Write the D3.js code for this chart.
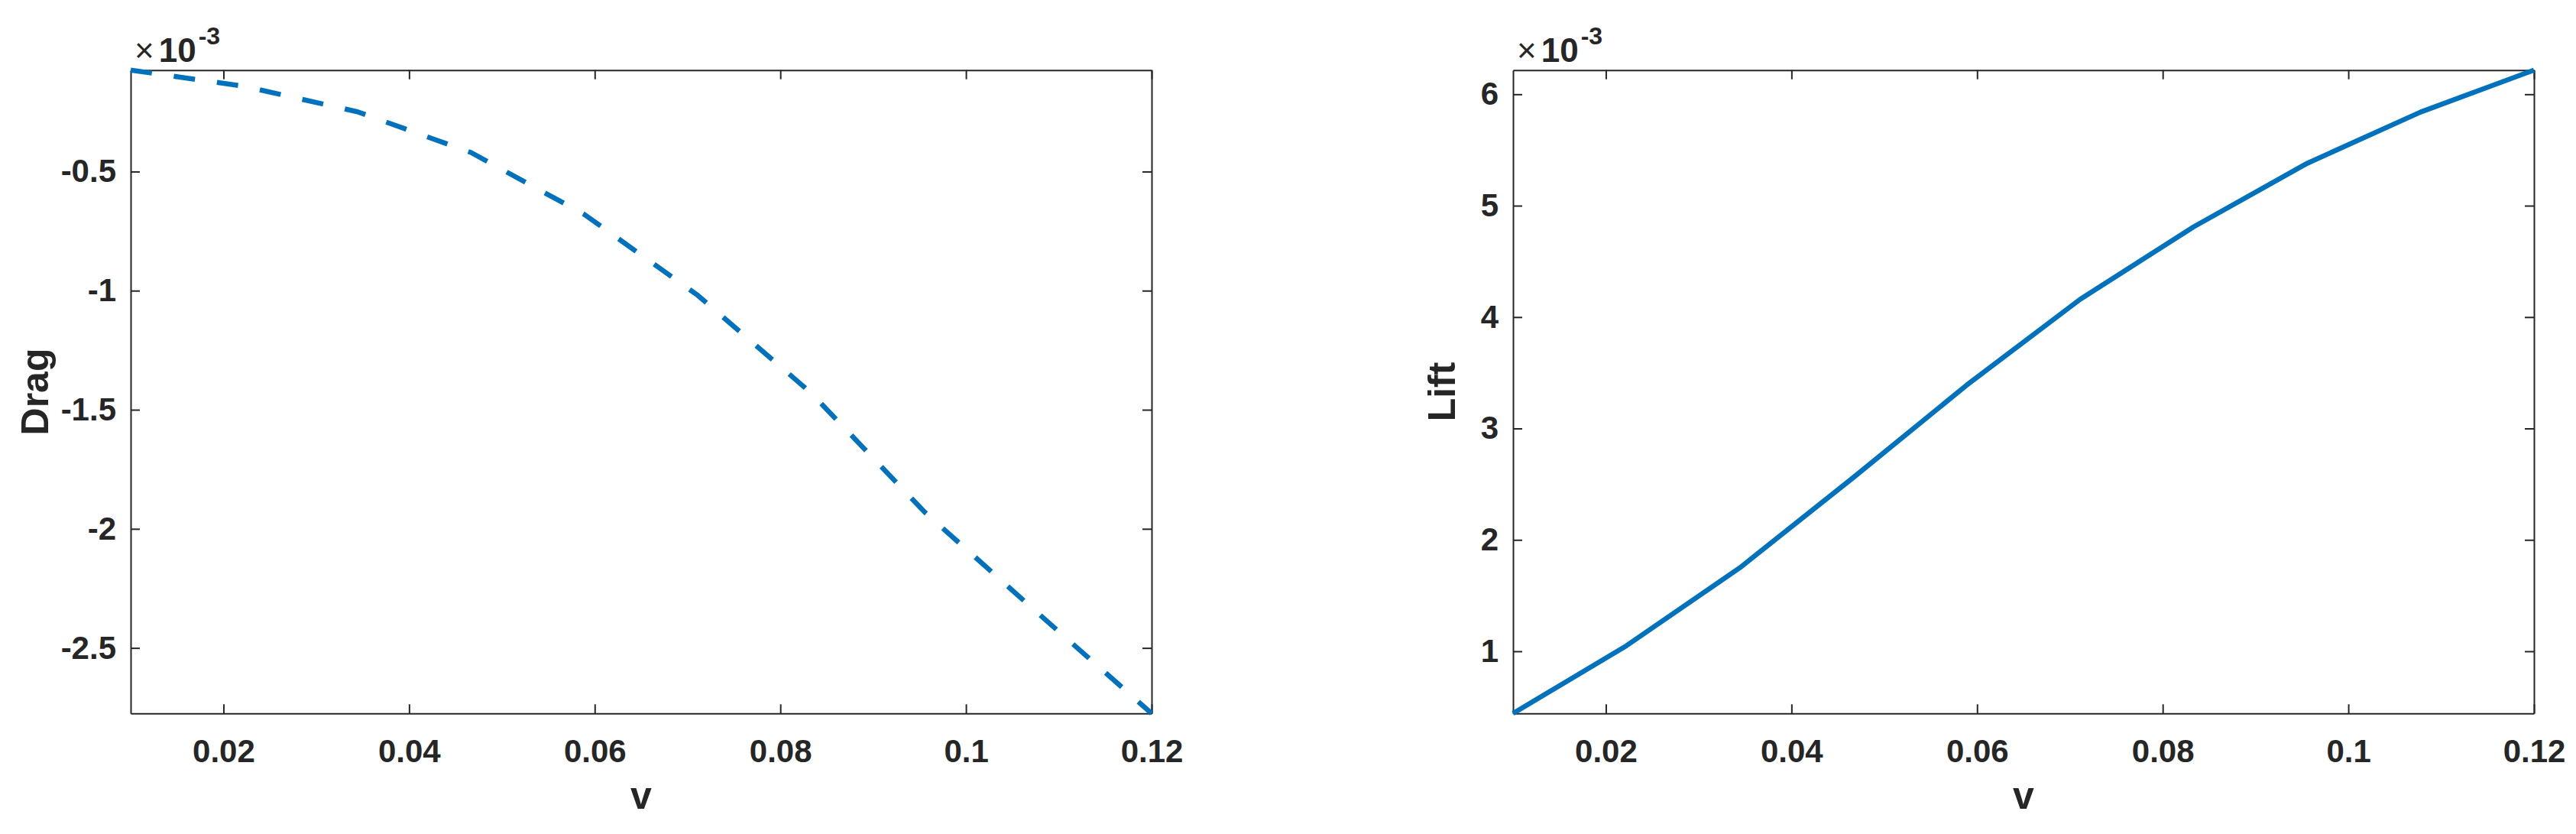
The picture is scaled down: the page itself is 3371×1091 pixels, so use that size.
<!DOCTYPE html>
<html>
<head>
<meta charset="utf-8">
<script src="https://cdn.jsdelivr.net/npm/d3@7"></script>
<style>
    body { margin: 0; background: #fff; }
    svg { display: block; }
</style>
</head>
<body>
<svg id="main"></svg>
<script>
const W = 3371;
const H = 1091;
const ink = '#262626';
const blue = '#0072BD';

// speed values (x axis, shared by both panels)
const v = [0.01, 0.02222, 0.03444, 0.04667, 0.05889, 0.07111, 0.08333, 0.09556, 0.10778, 0.12];
// drag and lift, in units of 10^-3
const drag = [-0.074, -0.142, -0.249, -0.42, -0.68, -1.02, -1.43, -1.93, -2.355, -2.775];
const lift = [0.442, 1.05, 1.75, 2.56, 3.39, 4.16, 4.81, 5.38, 5.84, 6.217];

const xTicks = [0.02, 0.04, 0.06, 0.08, 0.1, 0.12];
const dragTicks = [-2.5, -2, -1.5, -1, -0.5];
const liftTicks = [1, 2, 3, 4, 5, 6];
const exponent = '-3';

const plotW = 1336;
const plotH = 841.6;
const tickLen = 12;

var svg = d3.select('#main')
    .attr('width', W)
    .attr('height', H)
    .style('font-family', 'Arial, "Liberation Sans", Helvetica, sans-serif');

drawPanel({ left: 171, top: 91.7, ys: drag, yTicks: dragTicks, ylabel: 'Drag', gap: 17, dashed: true });
drawPanel({ left: 1980, top: 91.7, ys: lift, yTicks: liftTicks, ylabel: 'Lift', gap: 34, dashed: false });

function drawPanel(p) {
    const g = svg.append('g').attr('transform', `translate(${p.left},${p.top})`);

    const x = d3.scaleLinear().domain(d3.extent(v)).range([0, plotW]);
    const y = d3.scaleLinear().domain(d3.extent(p.ys)).range([plotH, 0]);

    const fmt = d => String(d);

    g.append('g')
        .attr('transform', `translate(0,${plotH})`)
        .call(d3.axisBottom(x).tickValues(xTicks).tickFormat(fmt)
            .tickSizeInner(-tickLen).tickSizeOuter(0).tickPadding(34));

    g.append('g')
        .call(d3.axisTop(x).tickValues(xTicks).tickFormat('')
            .tickSizeInner(-tickLen).tickSizeOuter(0));

    const yAxis = g.append('g')
        .call(d3.axisLeft(y).tickValues(p.yTicks).tickFormat(fmt)
            .tickSizeInner(-tickLen).tickSizeOuter(0).tickPadding(19));

    g.append('g')
        .attr('transform', `translate(${plotW},0)`)
        .call(d3.axisRight(y).tickValues(p.yTicks).tickFormat('')
            .tickSizeInner(-tickLen).tickSizeOuter(0));

    g.selectAll('.domain, .tick line')
        .attr('stroke', ink)
        .attr('stroke-width', 2);

    g.selectAll('.tick text')
        .attr('fill', ink)
        .style('font-size', '42px')
        .style('font-weight', 'bold');

    // exponent label above the top-left corner
    const ex = g.append('text')
        .attr('x', 5)
        .attr('y', -11)
        .attr('fill', ink)
        .style('font-size', '44px');
    ex.append('tspan').text('\u00d7');
    ex.append('tspan').attr('dx', 6).style('font-weight', 'bold').text('10');
    ex.append('tspan').attr('dx', 3).attr('dy', -23)
        .style('font-weight', 'bold').style('font-size', '32px').text(exponent);

    // axis labels
    g.append('text')
        .attr('x', plotW / 2)
        .attr('y', plotH + 125)
        .attr('text-anchor', 'middle')
        .attr('fill', ink)
        .style('font-size', '50px')
        .style('font-weight', 'bold')
        .text('v');

    const box = yAxis.node().getBBox();
    g.append('text')
        .attr('transform', `translate(${box.x - p.gap},${plotH / 2}) rotate(-90)`)
        .attr('text-anchor', 'middle')
        .attr('fill', ink)
        .style('font-size', '50px')
        .style('font-weight', 'bold')
        .text(p.ylabel);

    const line = d3.line()
        .x((d, i) => x(v[i]))
        .y(d => y(d));

    g.append('path')
        .datum(p.ys)
        .attr('d', line)
        .attr('fill', 'none')
        .attr('stroke', blue)
        .attr('stroke-width', 6.5)
        .attr('stroke-linejoin', 'round')
        .attr('stroke-dasharray', p.dashed ? '28,29' : null);
}
</script>
</body>
</html>
